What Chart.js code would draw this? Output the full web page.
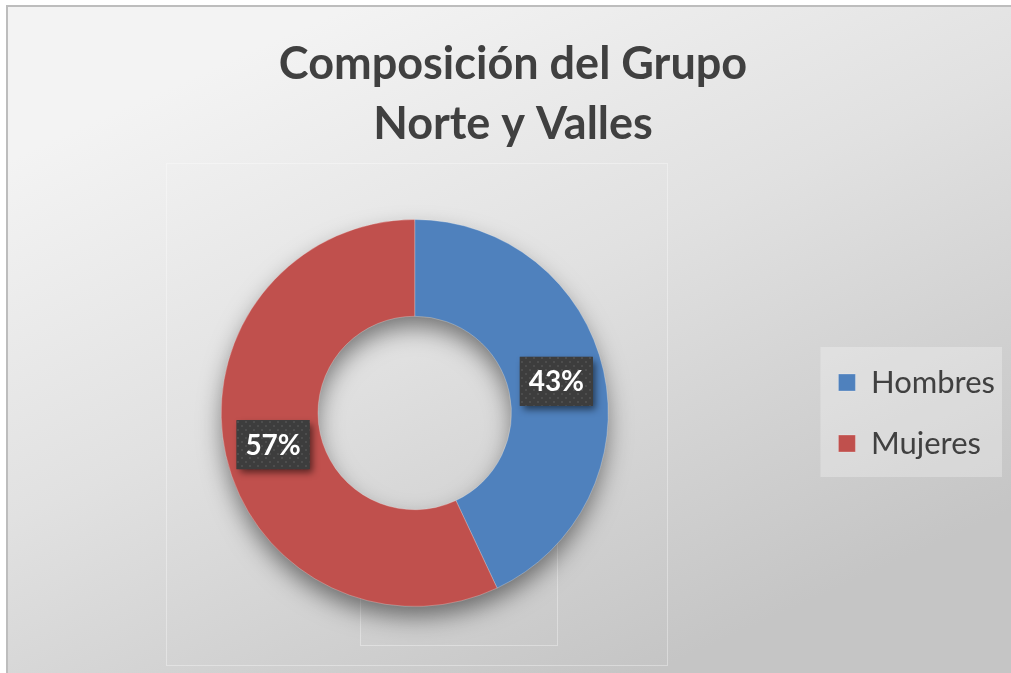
<!DOCTYPE html>
<html>
<head>
<meta charset="utf-8">
<script src="https://cdn.jsdelivr.net/npm/chart.js@4.4.1/dist/chart.umd.min.js"></script>
<style>
html,body{margin:0;padding:0;background:#fff;overflow:hidden;}
#wrap{position:absolute;left:0;top:0;width:1011px;height:673px;}
canvas{display:block;}
</style>
</head>
<body>
<div id="wrap"><canvas id="c" width="1011" height="673"></canvas></div>
<script>
const titleLines = ['Composición del Grupo', 'Norte y Valles'];
const categories = ['Hombres', 'Mujeres'];
const values = [43, 57];
const sliceColors = ['#4F81BD', '#C0504D'];

const FONT = 'Lato, "Open Sans", sans-serif';

// Background, frame, faint plot-area lines, legend panel
const backgroundPlugin = {
  id: 'bg',
  beforeDraw(chart) {
    const ctx = chart.ctx;
    ctx.save();
    ctx.fillStyle = '#ffffff';
    ctx.fillRect(0, 0, chart.width, chart.height);
    const g = ctx.createLinearGradient(350, 6, 650, 673);
    g.addColorStop(0, '#f3f3f3');
    g.addColorStop(0.45, '#e1e1e1');
    g.addColorStop(1, '#c5c5c5');
    ctx.fillStyle = g;
    ctx.fillRect(7, 6, chart.width - 7, chart.height - 6);
    ctx.strokeStyle = '#bdbdbd';
    ctx.lineWidth = 2;
    ctx.beginPath();
    ctx.moveTo(7, chart.height);
    ctx.lineTo(7, 6);
    ctx.lineTo(chart.width, 6);
    ctx.stroke();
    // faint plot-area outlines
    ctx.strokeStyle = 'rgba(255,255,255,0.35)';
    ctx.lineWidth = 1;
    ctx.strokeRect(166.5, 163.5, 501, 502);
    ctx.strokeRect(360.5, 540.5, 197, 105);
    // legend panel
    const lg = chart.legend;
    if (lg && lg.legendHitBoxes && lg.legendHitBoxes.length) {
      const hb = lg.legendHitBoxes;
      const first = hb[0], last = hb[hb.length - 1];
      let right = 0;
      hb.forEach(h => { right = Math.max(right, h.left + h.width); });
      const x0 = first.left - 18, y0 = first.top - 20;
      const x1 = right + 7, y1 = last.top + last.height + 18;
      ctx.fillStyle = 'rgba(255,255,255,0.28)';
      ctx.fillRect(x0, y0, x1 - x0, y1 - y0);
    }
    ctx.restore();
  }
};

// Soft drop shadow under the doughnut ring
const ringShadowPlugin = {
  id: 'ringShadow',
  beforeDatasetsDraw(chart) {
    const meta = chart.getDatasetMeta(0);
    if (!meta.data.length) return;
    const a = meta.data[0];
    const ctx = chart.ctx;
    ctx.save();
    ctx.shadowColor = 'rgba(0,0,0,0.5)';
    ctx.shadowBlur = 24;
    ctx.shadowOffsetX = 0;
    ctx.shadowOffsetY = 12;
    ctx.fillStyle = '#888';
    ctx.beginPath();
    ctx.arc(a.x, a.y, a.outerRadius - 2, 0, Math.PI * 2);
    ctx.arc(a.x, a.y, a.innerRadius + 2, 0, Math.PI * 2, true);
    ctx.fill();
    ctx.restore();
  }
};

// Dark patterned data-label boxes
function makePattern(ctx) {
  const t = document.createElement('canvas');
  t.width = 8; t.height = 8;
  const c = t.getContext('2d');
  c.fillStyle = '#3d3d3d';
  c.fillRect(0, 0, 8, 8);
  c.fillStyle = '#4d4d4d';
  c.fillRect(1, 1, 2, 2);
  c.fillRect(5, 5, 2, 2);
  return ctx.createPattern(t, 'repeat');
}
const labelPlugin = {
  id: 'pctLabels',
  afterDatasetsDraw(chart) {
    const ctx = chart.ctx;
    const meta = chart.getDatasetMeta(0);
    const data = chart.data.datasets[0].data;
    const total = data.reduce((s, v) => s + v, 0);
    const pat = makePattern(ctx);
    meta.data.forEach((arc, i) => {
      const p = arc.tooltipPosition();
      const txt = Math.round(data[i] / total * 100) + '%';
      ctx.save();
      ctx.font = 'bold 28px ' + FONT;
      const w = 73, h = 49;
      const x = p.x - w / 2, y = p.y - h / 2;
      ctx.shadowColor = 'rgba(0,0,0,0.55)';
      ctx.shadowBlur = 7;
      ctx.shadowOffsetX = 3;
      ctx.shadowOffsetY = 4;
      ctx.fillStyle = '#3d3d3d';
      ctx.fillRect(x, y, w, h);
      ctx.shadowColor = 'transparent';
      ctx.fillStyle = pat;
      ctx.fillRect(x, y, w, h);
      ctx.fillStyle = '#ffffff';
      ctx.textAlign = 'center';
      ctx.textBaseline = 'middle';
      ctx.fillText(txt, p.x, p.y + 1);
      ctx.restore();
    });
  }
};

new Chart(document.getElementById('c'), {
  type: 'doughnut',
  data: {
    labels: categories,
    datasets: [{
      data: values,
      backgroundColor: sliceColors,
      borderColor: 'rgba(255,255,255,0.25)',
      borderWidth: 1,
      hoverOffset: 0
    }]
  },
  options: {
    responsive: false,
    devicePixelRatio: 1,
    animation: false,
    cutout: '50%',
    layout: { padding: { left: 21, right: 6, top: 0, bottom: 66 } },
    plugins: {
      tooltip: { enabled: false },
      title: {
        display: true,
        text: titleLines,
        color: '#404040',
        font: { family: FONT, size: 45, weight: 'bold', lineHeight: 60 / 45 },
        padding: { top: 34, bottom: 65 }
      },
      legend: {
        display: true,
        position: 'right',
        fullSize: false,
        labels: {
          color: '#404040',
          font: { family: FONT, size: 31 },
          boxWidth: 17,
          boxHeight: 17,
          padding: 30
        }
      }
    }
  },
  plugins: [backgroundPlugin, ringShadowPlugin, labelPlugin]
});
</script>
</body>
</html>
